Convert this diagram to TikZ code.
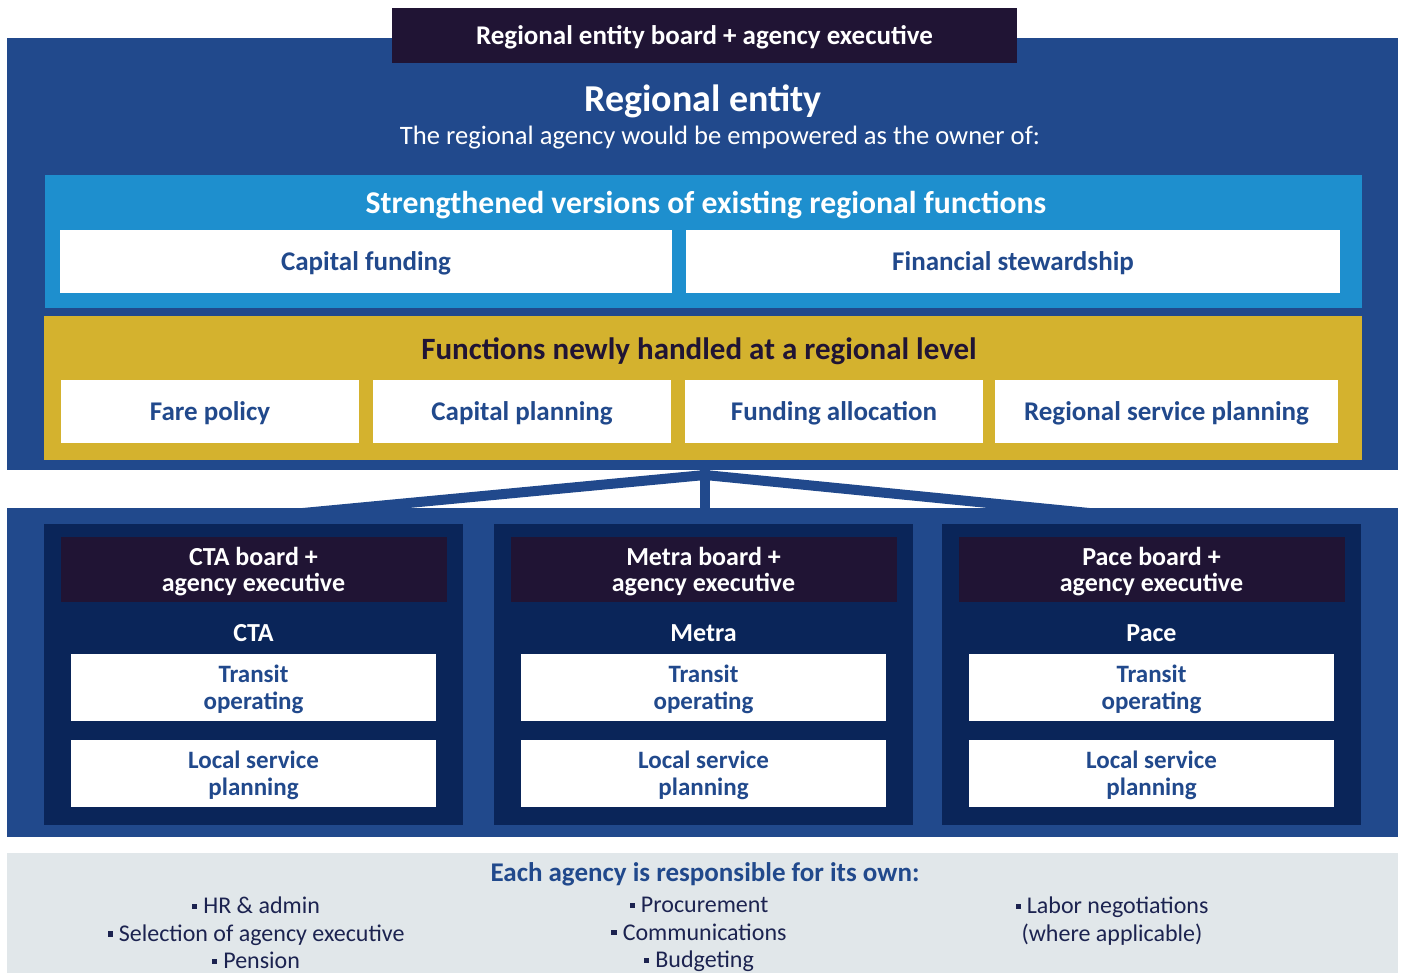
\documentclass[tikz,border=0pt]{standalone}
\usepackage{fontspec}
\setmainfont{Carlito}
\usetikzlibrary{positioning}
\definecolor{RegionBlue}{HTML}{21498C}
\definecolor{SkyBlue}{HTML}{1E8FCE}
\definecolor{PlanGold}{HTML}{D4B22E}
\definecolor{BoardPurple}{HTML}{201434}
\definecolor{AgencyNavy}{HTML}{0A2559}
\definecolor{NoteGrey}{HTML}{E1E7EA}
\definecolor{NoteInk}{HTML}{1C2350}

\newcommand{\sqbul}{\rule[0.2em]{0.22em}{0.22em}\hspace{0.25em}}

\begin{document}
\begin{tikzpicture}[x=1pt, y=-1pt,
    block/.style={rectangle, inner sep=0pt, outer sep=0pt},
    fnbox/.style={block, fill=white, text=RegionBlue, align=center, text depth=0pt,
                  font=\fontsize{27}{27}\selectfont\bfseries},
    opbox/.style={fnbox, minimum width=365, minimum height=67,
                  font=\fontsize{25}{27}\selectfont\bfseries},
    boardbox/.style={block, fill=BoardPurple, text=white, align=center, text depth=0pt,
                     font=\fontsize{26}{26}\selectfont\bfseries},
    notes/.style={inner sep=0pt, text=NoteInk, align=center, anchor=north,
                  font=\fontsize{24}{27.5}\selectfont},
    link/.style={RegionBlue, line width=10pt}]

    \useasboundingbox (0,0) rectangle (1403,973);

    % Regional entity
    \node[block, fill=RegionBlue, minimum width=1391, minimum height=432] (regional) at (702.5,254) {};
    \node[boardbox, minimum width=625, minimum height=55, font=\fontsize{27}{27}\selectfont\bfseries] (board) at (704.5,35.5) {Regional entity board + agency executive};
    \node[text=white, font=\fontsize{38}{40}\selectfont\bfseries] (title) at (703,101) {Regional entity};
    \node[text=white, font=\fontsize{26.6}{28}\selectfont] (subtitle) at (720,138) {The regional agency would be empowered as the owner of:};

    % Strengthened existing functions
    \node[block, fill=SkyBlue, minimum width=1317, minimum height=133] (existing) at (703.5,241.5) {};
    \node[text=white, font=\fontsize{31.7}{33}\selectfont\bfseries] (existing-title) at (706,205) {Strengthened versions of existing regional functions};
    \node[fnbox, minimum width=612, minimum height=63] (capfund) at (366,261.5) {Capital funding};
    \node[fnbox, minimum width=654, minimum height=63] (finstew) at (1013,261.5) {Financial stewardship};

    % Functions newly at regional level
    \node[block, fill=PlanGold, minimum width=1318, minimum height=144] (newly) at (703,388) {};
    \node[text=BoardPurple, font=\fontsize{31}{33}\selectfont\bfseries] (newly-title) at (699,351) {Functions newly handled at a regional level};
    \node[fnbox, minimum width=298, minimum height=63] (fare) at (210,411.5) {Fare policy};
    \node[fnbox, minimum width=298, minimum height=63] (capplan) at (522,411.5) {Capital planning};
    \node[fnbox, minimum width=298, minimum height=63] (fundalloc) at (834,411.5) {Funding allocation};
    \node[fnbox, minimum width=343, minimum height=63] (regplan) at (1166.5,411.5) {Regional service planning};

    % Links down to the service boards
    \coordinate (apex) at (705,475);
    \coordinate (cta-end) at (250,518);
    \coordinate (pace-end) at (1160,520);
    \draw[link] (apex) -- (cta-end);
    \draw[link] (apex) -- (pace-end);

    \node[block, fill=RegionBlue, minimum width=1391, minimum height=329] (agencies) at (702.5,672.5) {};
    \draw[link] (apex |- regional.south) -- (apex |- agencies.north);

    % Service boards
    \foreach \cx/\agency/\id in {253.5/CTA/cta, 703.5/Metra/metra, 1151.5/Pace/pace} {
        \node[block, fill=AgencyNavy, minimum width=419, minimum height=301] (\id-panel) at (\cx,674.5) {};
        \node[boardbox, minimum width=386, minimum height=65] (\id-board) at (\cx,569.5) {\agency\ board +\\agency executive};
        \node[text=white, font=\fontsize{26}{28}\selectfont\bfseries] (\id-name) at (\cx,633) {\agency};
        \node[opbox] (\id-ops) at (\cx,687.5) {Transit\\operating};
        \node[opbox] (\id-local) at (\cx,773.5) {Local service\\planning};
    }

    % Agency responsibilities
    \node[block, fill=NoteGrey, minimum width=1391, minimum height=120] (own) at (702.5,913) {};
    \node[text=RegionBlue, font=\fontsize{27}{29}\selectfont\bfseries] (own-title) at (705,874) {Each agency is responsible for its own:};
    \node[notes] (own-left) at (256,897) {\sqbul HR \& admin\\\sqbul Selection of agency executive\\\sqbul Pension};
    \node[notes] (own-mid) at (699,897) {\sqbul Procurement\\\sqbul Communications\\\sqbul Budgeting};
    \node[notes] (own-right) at (1112,897) {\sqbul Labor negotiations\\(where applicable)};
\end{tikzpicture}
\end{document}
